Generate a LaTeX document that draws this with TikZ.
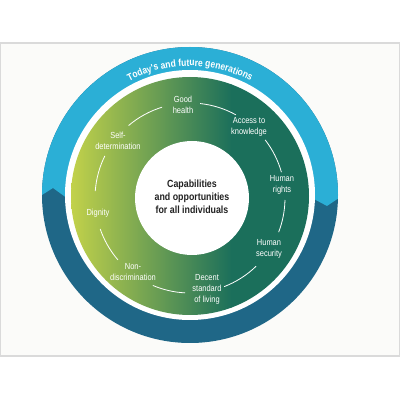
\documentclass[tikz,border=0pt]{standalone}
\usepackage{fontspec}
\setmainfont{Liberation Sans}
\newfontfamily\condfont[FakeStretch=0.85]{Liberation Sans}
\usetikzlibrary{decorations.text}
\definecolor{lblue}{HTML}{2BAFD6}
\definecolor{dblue}{HTML}{1F6787}
\definecolor{g1}{HTML}{C3D24A}
\definecolor{g2}{HTML}{74A65A}
\definecolor{g3}{HTML}{1B6F5B}
\definecolor{framegray}{HTML}{DADADA}
\definecolor{framefill}{HTML}{FBFBF9}
\definecolor{coretext}{HTML}{222222}
\tikzset{
  lbl/.style={font=\condfont\fontsize{8.8}{11}\selectfont, text=white, align=center, inner sep=0pt},
  centertext/.style={font=\condfont\bfseries\fontsize{10.4}{13}\selectfont, text=coretext, align=center, inner sep=0pt},
  ringline/.style={white, line width=0.8pt}
}
\begin{document}
\begin{tikzpicture}[x=1pt,y=1pt]
\useasboundingbox (0,0) rectangle (400,400);
\fill[white] (0,0) rectangle (400,400);
\draw[framegray, line width=1.2pt, fill=framefill] (0.6,44) rectangle (399.4,357);
\coordinate (O) at (190,205);
\fill[dblue] (O) circle[radius=148];
\begin{scope}
  \clip (O) circle[radius=148];
  \fill[lblue] (30,197.4) -- (53,212) -- (80,192.4) -- (300,208.4) -- (327,194) -- (355,212.7) -- (355,400) -- (30,400) -- cycle;
\end{scope}
\fill[white] (O) circle[radius=125];
\coordinate (G) at (190,204);
\begin{scope}
  \clip (G) circle[radius=119];
  \shade[left color=g1, middle color=g2, right color=g3] (70,80) rectangle (232,330);
  \fill[g3] (231,80) rectangle (312,330);
\end{scope}
\node[circle, fill=white, minimum size=114pt, inner sep=0pt] (core) at (192,202) {};
\node[centertext] (ct) at (192,203) {Capabilities\\and opportunities\\for all individuals};
\path[decorate, decoration={text along path, text color=white, text align=center,
  text={|\condfont\bfseries\fontsize{10}{12}\selectfont|Today's and future generations}}]
  ([shift={(125:129)}]O) arc[start angle=125, end angle=55, radius=129];
\node[lbl] (gh) at (183,295) {Good\\health};
\node[lbl] (ak) at (249,273) {Access to\\knowledge};
\node[lbl] (hr) at (282,215) {Human\\rights};
\node[lbl] (hs) at (269,151) {Human\\security};
\node[lbl] (ds) at (207,111) {Decent\\standard\\of living};
\node[lbl] (nd) at (133,128) {Non-\\discrimination};
\node[lbl] (dg) at (98,187) {Dignity};
\node[lbl] (sd) at (118,259) {Self-\\determination};
\coordinate (A) at (190,202);
\foreach \a/\b in {130.3/107.1, 83.9/61.1, 37.7/15.8, -1.2/-21.1, -45.9/-68.9, -93/-113, 220.7/199, 175.8/153.7}
  \draw[ringline] ([shift={(\a:95)}]A) arc[start angle=\a, end angle=\b, radius=95];
\end{tikzpicture}
\end{document}
